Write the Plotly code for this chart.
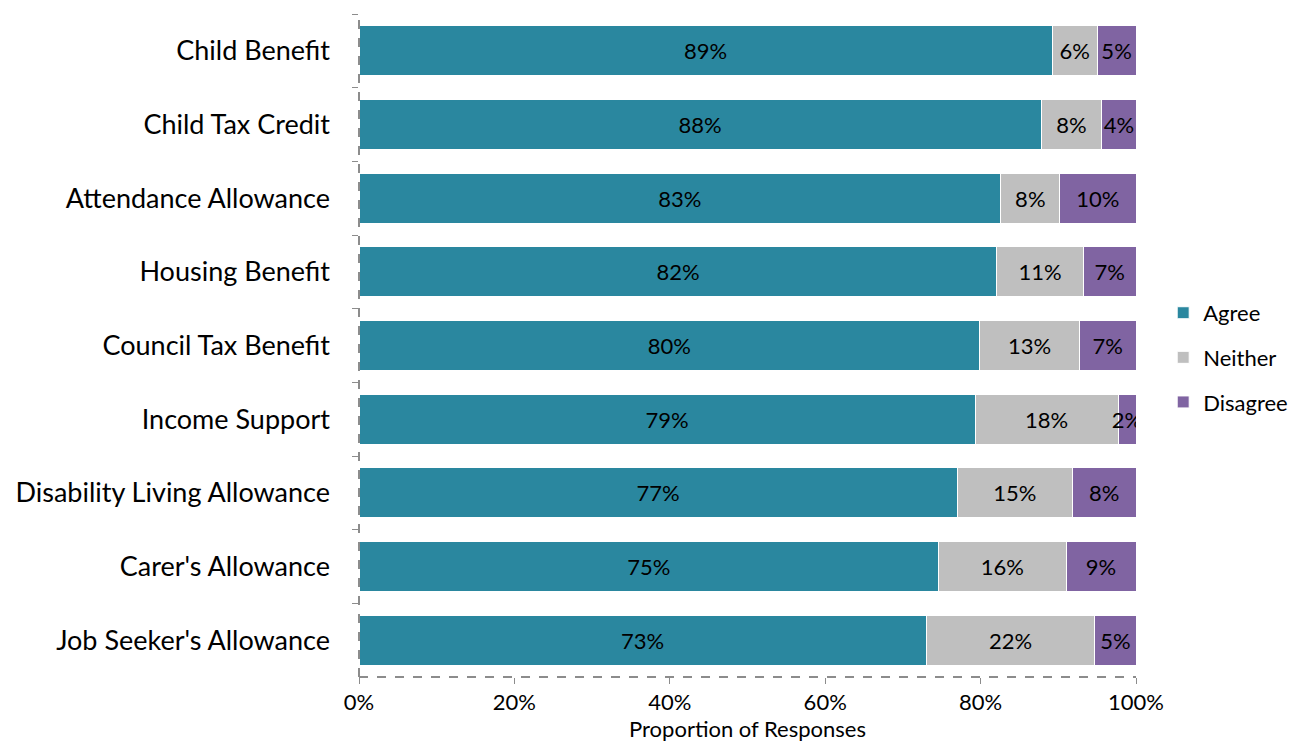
import plotly.graph_objects as go

categories = ["Child Benefit", "Child Tax Credit", "Attendance Allowance", "Housing Benefit",
              "Council Tax Benefit", "Income Support", "Disability Living Allowance",
              "Carer's Allowance", "Job Seeker's Allowance"]
agree = [89.2, 87.8, 82.6, 82.1, 79.9, 79.3, 77.0, 74.6, 73.0]
neither = [5.8, 7.8, 7.6, 11.1, 12.8, 18.4, 14.8, 16.4, 21.7]
disagree = [5.0, 4.4, 9.8, 6.8, 7.3, 2.3, 8.2, 9.0, 5.3]

series = [("Agree", agree, "#2A879F"), ("Neither", neither, "#BFBFBF"), ("Disagree", disagree, "#8064A2")]

FONT = "Lato"
fig = go.Figure()
for i, (name, vals, color) in enumerate(series):
    fig.add_trace(go.Bar(
        y=categories, x=vals, name=name, orientation="h",
        marker=dict(color=color, line=dict(color="white", width=1)),
        texttemplate="%{x:.0f}%", textposition="inside", insidetextanchor="middle",
        constraintext="none", textangle=0,
        textfont=dict(family=FONT, size=22, color="black"),
        legendgroup=name, hoverinfo="x+y",
    ))

fig.update_layout(
    barmode="stack", bargap=0.32,
    width=1298, height=742,
    margin=dict(l=359, r=162, t=14, b=65, autoexpand=False),
    plot_bgcolor="white", paper_bgcolor="white",
    font=dict(family=FONT, color="black"),
    legend=dict(x=1.035, y=0.482, yanchor="middle", xanchor="left",
                font=dict(family=FONT, size=22), tracegroupgap=13),
    xaxis=dict(range=[0, 100], dtick=20, ticksuffix="%", showgrid=False, zeroline=False,
               ticks="outside", ticklen=6, tickcolor="#8C8C8C", automargin=False,
               tickfont=dict(family=FONT, size=22),
               title=dict(text="Proportion of Responses", font=dict(family=FONT, size=22), standoff=0),
               showline=False),
    yaxis=dict(autorange="reversed", showgrid=False, zeroline=False, ticks="outside",
               tickson="boundaries", ticklen=6, tickcolor="#8C8C8C", automargin=False,
               ticklabelstandoff=28,
               tickfont=dict(family=FONT, size=27), showline=False),
)
fig.add_shape(type="line", xref="paper", yref="paper", x0=0, x1=0, y0=0, y1=1,
              line=dict(color="#8C8C8C", width=2, dash="dash"))
fig.add_shape(type="line", xref="paper", yref="paper", x0=0, x1=1, y0=0, y1=0,
              line=dict(color="#8C8C8C", width=2, dash="dash"))

fig.write_html("out.html", config={"displayModeBar": False},
               post_script="document.body.style.margin='0';document.body.style.overflow='hidden';")
